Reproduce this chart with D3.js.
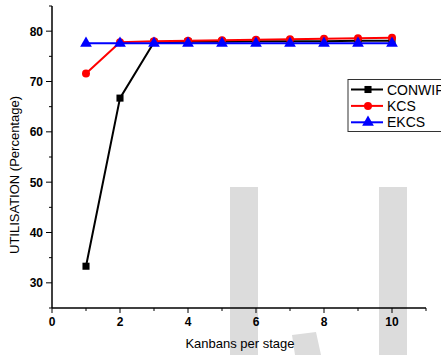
<!DOCTYPE html>
<html>
<head>
<meta charset="utf-8">
<script src="https://cdn.jsdelivr.net/npm/d3@7"></script>
<style>
  body { margin: 0; background: #fff; }
  text { font-family: "Liberation Sans", Arial, sans-serif; }
</style>
</head>
<body>
<div id="chart"></div>
<script>
// Data
const stages = [1, 2, 3, 4, 5, 6, 7, 8, 9, 10];
const conwip = [33.3, 66.7, 77.8, 77.9, 77.9, 78.0, 78.0, 78.0, 78.1, 78.1];
const kcs = [71.6, 77.8, 78.0, 78.1, 78.2, 78.3, 78.4, 78.5, 78.6, 78.7];
const ekcs = [77.6, 77.6, 77.6, 77.6, 77.6, 77.6, 77.6, 77.6, 77.6, 77.6];
const xTicks = [0, 2, 4, 6, 8, 10];
const yTicks = [30, 40, 50, 60, 70, 80];

const series = [
    { name: 'CONWIP', values: conwip, color: '#000000', symbol: d3.symbolSquare },
    { name: 'KCS', values: kcs, color: '#ff0000', symbol: d3.symbolCircle },
    { name: 'EKCS', values: ekcs, color: '#0000ff', symbol: d3.symbolTriangle }
];

const W = 441, H = 355;
const svg = d3.select("#chart").append("svg")
    .attr("width", W)
    .attr("height", H);

// watermark shapes behind the plot
const wm = svg.append("g").attr("fill", "#dcdcdc");
wm.append("rect").attr("x", 230).attr("y", 187).attr("width", 28).attr("height", H - 187);
wm.append("rect").attr("x", 379).attr("y", 187).attr("width", 28).attr("height", H - 187);
wm.append("path").attr("d", "M292,335 L316,332 L321,355 L295,355 Z");

const x = d3.scaleLinear().domain([0, 11]).range([52, 426]);
const y = d3.scaleLinear().domain([25, 85]).range([308, 6]);

// x axis
const xAxis = svg.append("g").attr("transform", "translate(0,308)");
xAxis.append("line").attr("x1", x(0)).attr("x2", x(11)).attr("stroke", "#000").attr("stroke-width", 1.5);
xAxis.selectAll(".minor").data(d3.range(0, 12)).enter().append("line")
    .attr("x1", d => x(d)).attr("x2", d => x(d))
    .attr("y1", 0).attr("y2", d => d % 2 === 0 ? 5 : 3)
    .attr("stroke", "#000").attr("stroke-width", 1);
xAxis.selectAll(".lbl").data(xTicks).enter().append("text")
    .attr("x", d => x(d)).attr("y", 18)
    .attr("text-anchor", "middle")
    .attr("font-size", 12).attr("font-weight", "bold")
    .text(d => d);

// y axis
const yAxis = svg.append("g").attr("transform", "translate(52,0)");
yAxis.append("line").attr("y1", y(25)).attr("y2", y(85)).attr("stroke", "#000").attr("stroke-width", 1.5);
yAxis.selectAll(".minor").data(d3.range(25, 90, 5)).enter().append("line")
    .attr("y1", d => y(d)).attr("y2", d => y(d))
    .attr("x1", 0).attr("x2", d => d % 10 === 0 ? -6 : -3)
    .attr("stroke", "#000").attr("stroke-width", 1);
yAxis.selectAll(".lbl").data(yTicks).enter().append("text")
    .attr("x", -9).attr("y", d => y(d) + 4.5)
    .attr("text-anchor", "end")
    .attr("font-size", 12).attr("font-weight", "bold")
    .text(d => d);

// axis titles
svg.append("text")
    .attr("x", 240).attr("y", 348)
    .attr("text-anchor", "middle").attr("font-size", 13)
    .text("Kanbans per stage");
svg.append("text")
    .attr("transform", "translate(19,175) rotate(-90)")
    .attr("text-anchor", "middle").attr("font-size", 13)
    .text("UTILISATION (Percentage)");

// lines and markers
const line = d3.line().x((d, i) => x(stages[i])).y(d => y(d));
series.forEach(s => {
    svg.append("path")
        .attr("d", line(s.values))
        .attr("fill", "none")
        .attr("stroke", s.color)
        .attr("stroke-width", 2);
    svg.selectAll(null).data(s.values).enter().append("path")
        .attr("d", d3.symbol().type(s.symbol).size(s.symbol === d3.symbolTriangle ? 60 : 50))
        .attr("transform", (d, i) => `translate(${x(stages[i])},${y(d)})`)
        .attr("fill", s.color);
});

// legend (box runs off the right edge, as in the reference)
const legend = svg.append("g").attr("transform", "translate(348,79.5)");
legend.append("rect")
    .attr("width", 110).attr("height", 52)
    .attr("fill", "#fff").attr("stroke", "#333").attr("stroke-width", 1);
series.forEach((s, i) => {
    const g = legend.append("g").attr("transform", `translate(0,${10 + i * 16.4})`);
    g.append("line").attr("x1", 3).attr("x2", 35).attr("stroke", s.color).attr("stroke-width", 2);
    g.append("path")
        .attr("d", d3.symbol().type(s.symbol).size(s.symbol === d3.symbolTriangle ? 60 : 50))
        .attr("transform", "translate(20,0)")
        .attr("fill", s.color);
    g.append("text")
        .attr("x", 39).attr("y", 5)
        .attr("font-size", 14)
        .text(s.name);
});
</script>
</body>
</html>
